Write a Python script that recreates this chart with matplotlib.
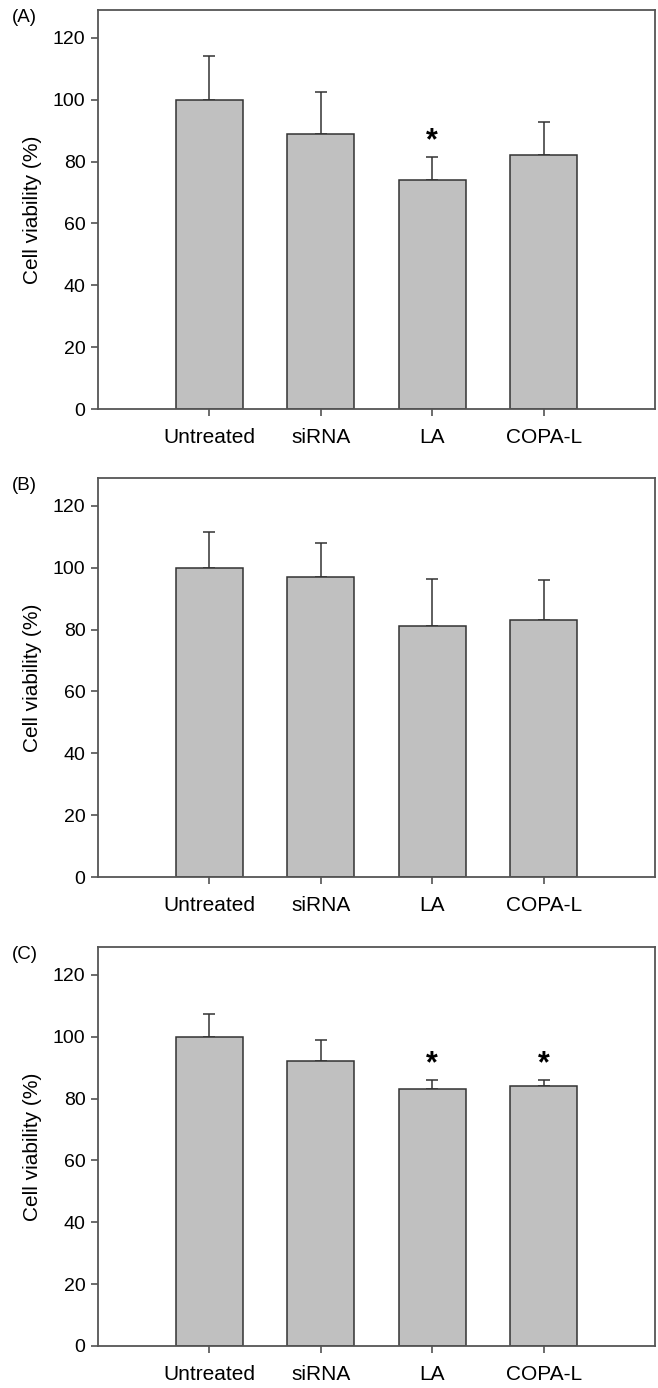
import numpy as np
import matplotlib.pyplot as plt

plt.rcParams['font.family'] = ['Liberation Sans', 'DejaVu Sans']

groups = ["Untreated", "siRNA", "LA", "COPA-L"]
panels = ["(A)", "(B)", "(C)"]

# mean viability and upper error (SD) per panel
means_a = [100, 89, 74, 82]
err_a = [14, 13.5, 7.5, 10.8]
means_b = [100, 97, 81, 83]
err_b = [11.5, 11, 15.5, 13]
means_c = [100, 92, 83, 84]
err_c = [7.5, 7, 3, 2]
stars_a = [False, False, True, False]
stars_b = [False, False, False, False]
stars_c = [False, False, True, True]

data = [(means_a, err_a, stars_a), (means_b, err_b, stars_b), (means_c, err_c, stars_c)]

fig = plt.figure(figsize=(6.58, 13.88), dpi=100)
left, width, height = 98/658, 557/658, 399/1388
bottoms = [979/1388, 511/1388, 42/1388]

x = np.arange(1, len(groups) + 1)
for (means, errs, stars), lab, b in zip(data, panels, bottoms):
    ax = fig.add_axes([left, b, width, height])
    ax.bar(x, means, width=0.6, color="#c0c0c0", edgecolor="#333333", lw=1.1, zorder=2)
    ax.errorbar(x, means, yerr=[np.zeros(len(errs)), errs], fmt="none",
                ecolor="#333333", elinewidth=1.1, capsize=4.3, capthick=1.1, zorder=1)
    for xi, m, e, s in zip(x, means, errs, stars):
        if s:
            ax.text(xi, m + e + 5, "*", ha="center", va="center", fontsize=22,
                    fontweight="bold")
    ax.set_xlim(0, 5)
    ax.set_ylim(0, 129)
    ax.set_yticks(range(0, 121, 20))
    ax.set_xticks(x)
    ax.set_xticklabels(groups, fontsize=15)
    ax.tick_params(axis="both", direction="out", length=5, width=1.1, color="#444444",
                   labelsize=14)
    ax.tick_params(axis="y", pad=4)
    ax.tick_params(axis="x", pad=9, labelsize=15)
    for sp in ax.spines.values():
        sp.set_color("#555555")
        sp.set_linewidth(1.3)
    ax.set_ylabel("Cell viability (%)", fontsize=15, labelpad=8)
    fig.text(12/658, b + height + 1/1388, lab, fontsize=13.5, ha="left", va="top")

fig.savefig("out.png", dpi=100)
